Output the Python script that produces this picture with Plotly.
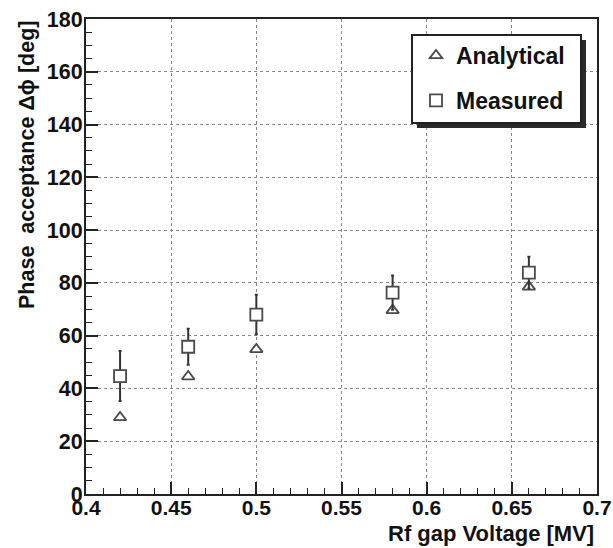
import plotly.graph_objects as go

voltage = [0.42, 0.46, 0.50, 0.58, 0.66]
analytical = [29, 44.5, 54.8, 69.6, 78.5]
measured = [44.7, 55.8, 68.0, 76.3, 83.9]
measured_err = [9.5, 6.8, 7.5, 6.5, 6.0]
x_ticks = [0.4, 0.45, 0.5, 0.55, 0.6, 0.65, 0.7]
x_labels = ["0.4", "0.45", "0.5", "0.55", "0.6", "0.65", "0.7"]
y_ticks = [0, 20, 40, 60, 80, 100, 120, 140, 160, 180]

FONT = "Liberation Sans"
MK = "#4a4a4a"

fig = go.Figure()
fig.add_trace(go.Scatter(
    x=voltage, y=analytical, mode="markers", name="<b>Analytical</b>",
    legendgroup="a",
    marker=dict(symbol="triangle-up", size=11, color="white",
                line=dict(color=MK, width=1.8)),
))
fig.add_trace(go.Scatter(
    x=voltage, y=measured, mode="markers", name="<b>Measured</b>",
    legendgroup="m",
    marker=dict(symbol="square", size=12, color="white",
                line=dict(color=MK, width=1.8)),
    error_y=dict(type="data", array=measured_err, visible=True,
                 color="#333", thickness=2, width=1.5),
))

L, R, T, B = 86, 16, 19, 54
W, H = 613, 548
pw, ph = W - L - R, H - T - B

def px(x):
    return (x - L) / pw

def py(y):
    return (H - B - y) / ph

shapes = [
    dict(type="rect", xref="paper", yref="paper",
         x0=px(417), x1=px(586), y0=py(128), y1=py(40),
         fillcolor="#2a2a2a", line=dict(width=0), layer="above"),
    dict(type="rect", xref="paper", yref="paper",
         x0=px(412), x1=px(581), y0=py(123), y1=py(35),
         fillcolor="white", line=dict(color="#222", width=2), layer="above"),
]

fig.update_layout(
    width=W, height=H,
    margin=dict(l=L, r=R, t=T, b=B, autoexpand=False),
    plot_bgcolor="white", paper_bgcolor="white",
    font=dict(family=FONT, size=22, color="#111"),
    shapes=shapes,
    showlegend=True,
    legend=dict(
        x=px(416), y=py(34), xanchor="left", yanchor="top",
        bgcolor="rgba(0,0,0,0)", borderwidth=0,
        font=dict(family=FONT, size=23, color="#111"),
        tracegroupgap=12, itemwidth=30,
    ),
    annotations=[
        dict(text="<b>Phase  acceptance Δϕ [deg]</b>", xref="paper", yref="paper",
             x=px(27), y=py(19), xanchor="center", yanchor="top",
             textangle=-90, showarrow=False,
             font=dict(family=FONT, size=21.5, color="#111")),
        dict(text="<b>Rf gap Voltage [MV]</b>", xref="paper", yref="paper",
             x=px(596), y=py(533), xanchor="right", yanchor="middle",
             showarrow=False,
             font=dict(family=FONT, size=22, color="#111")),
    ],
)

fig.update_xaxes(
    range=[0.4, 0.7],
    tickvals=x_ticks,
    ticktext=["<b>%s</b>" % t for t in x_labels],
    ticks="inside", ticklen=12, tickwidth=1.5, tickcolor="#222",
    minor=dict(dtick=0.01, tick0=0.4, ticks="inside", ticklen=6, tickwidth=1.2,
               tickcolor="#222", showgrid=False),
    showline=True, linecolor="#222", linewidth=2, mirror=True,
    showgrid=True, gridcolor="#888", griddash="dot", gridwidth=1,
    zeroline=False, automargin=False, ticklabelstandoff=-6,
    tickfont=dict(family=FONT, size=21, color="#111"),
)
fig.update_yaxes(
    range=[0, 180],
    tickvals=y_ticks,
    ticktext=["<b>%d</b>" % t for t in y_ticks],
    ticks="inside", ticklen=12, tickwidth=1.5, tickcolor="#222",
    minor=dict(dtick=5, tick0=0, ticks="inside", ticklen=6, tickwidth=1.2,
               tickcolor="#222", showgrid=False),
    showline=True, linecolor="#222", linewidth=2, mirror=True,
    showgrid=True, gridcolor="#888", griddash="dot", gridwidth=1,
    zeroline=False, automargin=False, ticklabelstandoff=-3,
    tickfont=dict(family=FONT, size=21.5, color="#111"),
)

fig.write_html("out.html", config={"displayModeBar": False},
               post_script="document.body.style.margin='0';document.body.style.overflow='hidden';")
